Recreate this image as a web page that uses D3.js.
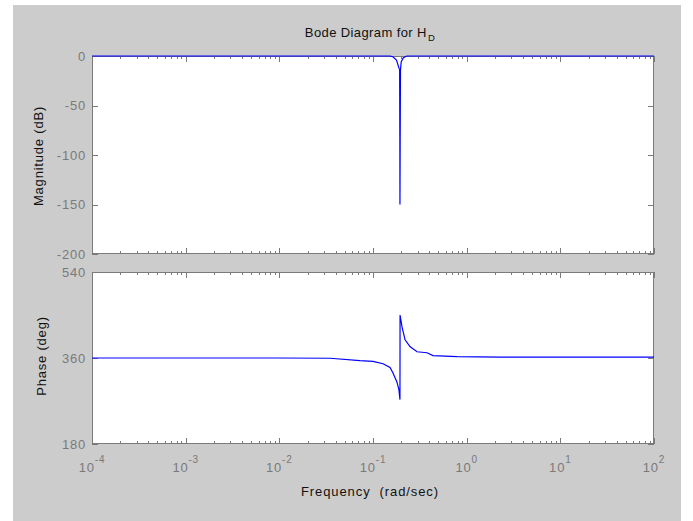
<!DOCTYPE html>
<html>
<head>
<meta charset="utf-8">
<script src="https://cdn.jsdelivr.net/npm/d3@7"></script>
<style>
  body { margin: 0; background: #fff; }
  svg { display: block; font-family: "Liberation Sans", Arial, sans-serif; }
</style>
</head>
<body>
<div id="chart"></div>
<script>
// ---- data ----
const magFreq = [1e-4, 1e-2, 0.1, 0.152, 0.163, 0.178, 0.1900, 0.1925, 0.1935, 0.1940, 0.1950, 0.1965, 0.200, 0.21, 0.22, 0.23, 1, 10, 100];
const magDb   = [0,    0,    0,   0,     -0.7,  -4,    -12.5,  -14,    -83,    -150,   -85,    -14,    -6,    -2,   -0.7, 0,    0, 0,  0];

const phaseFreq = [1e-4, 1e-2, 0.035, 0.0726, 0.1, 0.128, 0.152, 0.163, 0.180, 0.189, 0.1940, 0.1945, 0.204, 0.220, 0.248, 0.295, 0.377, 0.437, 0.79, 2.27, 100];
const phaseDeg  = [360,  360,  359.5, 354.5,  353, 348,   340,   329,   310,   294,   273,    450,    425,   398,   384,   373,   371,   365,   363,  362,  362];

const decades = [-4, -3, -2, -1, 0, 1, 2];
const magTicks = [0, -50, -100, -150, -200];
const phaseTicks = [180, 360, 540];

const titleMain = "Bode Diagram for H";
const titleSub = "D";
const magLabel = "Magnitude (dB)";
const phaseLabel = "Phase (deg)";
const freqLabel = "Frequency  (rad/sec)";

// ---- layout ----
const width = 693, height = 521;
const left = 92, right = 654;
const magBox = { top: 56, bottom: 254 };
const phBox = { top: 272, bottom: 444 };
const axisColor = "#7a7a7a";
const textColor = "#111";
const lineColor = "#0000ff";
const tickFont = 13, tickSpacing = 0.8;

const svg = d3.select("#chart").append("svg")
    .attr("width", width).attr("height", height);

// figure background
svg.append("rect")
    .attr("x", 13).attr("y", 5)
    .attr("width", 681 - 13).attr("height", height - 5)
    .attr("fill", "#cccccc");

const x = d3.scaleLog().domain([1e-4, 1e2]).range([left, right]);

const minorTicks = [];
decades.slice(0, -1).forEach(p => {
    for (let k = 2; k <= 9; k++) minorTicks.push(k * Math.pow(10, p));
});
const majorTicks = decades.map(p => Math.pow(10, p));

function panel(box, yDomain, yTicks, xs, ys, id) {
    const y = d3.scaleLinear().domain(yDomain).range([box.bottom, box.top]);
    const g = svg.append("g");

    g.append("rect")
        .attr("x", left).attr("y", box.top)
        .attr("width", right - left).attr("height", box.bottom - box.top)
        .attr("fill", "#fff");

    // ticks inside the box on all sides
    const tickG = g.append("g").attr("stroke", axisColor).attr("stroke-width", 1);
    minorTicks.forEach(v => {
        const px = Math.round(x(v)) + 0.5;
        tickG.append("line").attr("x1", px).attr("x2", px).attr("y1", box.bottom).attr("y2", box.bottom - 3);
        tickG.append("line").attr("x1", px).attr("x2", px).attr("y1", box.top).attr("y2", box.top + 3);
    });
    majorTicks.forEach(v => {
        const px = Math.round(x(v)) + 0.5;
        tickG.append("line").attr("x1", px).attr("x2", px).attr("y1", box.bottom).attr("y2", box.bottom - 6);
        tickG.append("line").attr("x1", px).attr("x2", px).attr("y1", box.top).attr("y2", box.top + 6);
    });
    yTicks.forEach(v => {
        const py = Math.round(y(v)) + 0.5;
        tickG.append("line").attr("x1", left).attr("x2", left + 6).attr("y1", py).attr("y2", py);
        tickG.append("line").attr("x1", right).attr("x2", right - 6).attr("y1", py).attr("y2", py);
    });

    // y tick labels
    g.selectAll("text.ytick").data(yTicks).join("text")
        .attr("class", "ytick")
        .attr("x", left - 6).attr("y", d => y(d) + 4.5)
        .attr("text-anchor", "end")
        .attr("font-size", tickFont)
        .attr("letter-spacing", tickSpacing)
        .attr("fill", axisColor)
        .text(d => d);

    // data line
    g.append("clipPath").attr("id", id)
        .append("rect").attr("x", left).attr("y", box.top - 1)
        .attr("width", right - left).attr("height", box.bottom - box.top + 1);
    const line = d3.line().x(d => x(d[0])).y(d => y(d[1]));

    // box frame
    g.append("rect")
        .attr("x", left + 0.5).attr("y", box.top + 0.5)
        .attr("width", right - left - 1).attr("height", box.bottom - box.top - 1)
        .attr("fill", "none").attr("stroke", axisColor);

    g.append("path")
        .datum(d3.zip(xs, ys))
        .attr("fill", "none")
        .attr("stroke", lineColor)
        .attr("stroke-width", 1.2)
        .attr("clip-path", `url(#${id})`)
        .attr("d", line);
    return g;
}

panel(magBox, [-200, 0], magTicks, magFreq, magDb, "clipMag");
panel(phBox, [180, 540], phaseTicks, phaseFreq, phaseDeg, "clipPh");

// x tick labels 10^p, whole label centred on the tick
const xl = svg.append("g").attr("fill", axisColor)
    .attr("font-size", tickFont).attr("letter-spacing", tickSpacing);
decades.forEach(p => {
    const t = xl.append("text")
        .attr("x", x(Math.pow(10, p))).attr("y", 472)
        .attr("text-anchor", "middle");
    t.append("tspan").text("10");
    t.append("tspan").attr("dy", -9).attr("font-size", 10).text(p < 0 ? "-" + Math.abs(p) : p);
});

// title
const title = svg.append("text")
    .attr("x", 370).attr("y", 37)
    .attr("text-anchor", "middle")
    .attr("font-size", 13)
    .attr("letter-spacing", 0.4)
    .attr("fill", textColor);
title.append("tspan").text(titleMain);
title.append("tspan").attr("dx", 1).attr("dy", 4).attr("font-size", 9.5).text(titleSub);

// axis labels
svg.append("text")
    .attr("transform", "translate(43,156) rotate(-90)")
    .attr("text-anchor", "middle").attr("font-size", 13).attr("letter-spacing", 0.8)
    .attr("fill", textColor)
    .text(magLabel);
svg.append("text")
    .attr("transform", "translate(46,356) rotate(-90)")
    .attr("text-anchor", "middle").attr("font-size", 13).attr("letter-spacing", 0.8)
    .attr("fill", textColor)
    .text(phaseLabel);
svg.append("text")
    .attr("x", 370).attr("y", 496)
    .attr("text-anchor", "middle").attr("font-size", 13).attr("letter-spacing", 0.9)
    .attr("fill", textColor)
    .style("white-space", "pre")
    .text(freqLabel);
</script>
</body>
</html>
